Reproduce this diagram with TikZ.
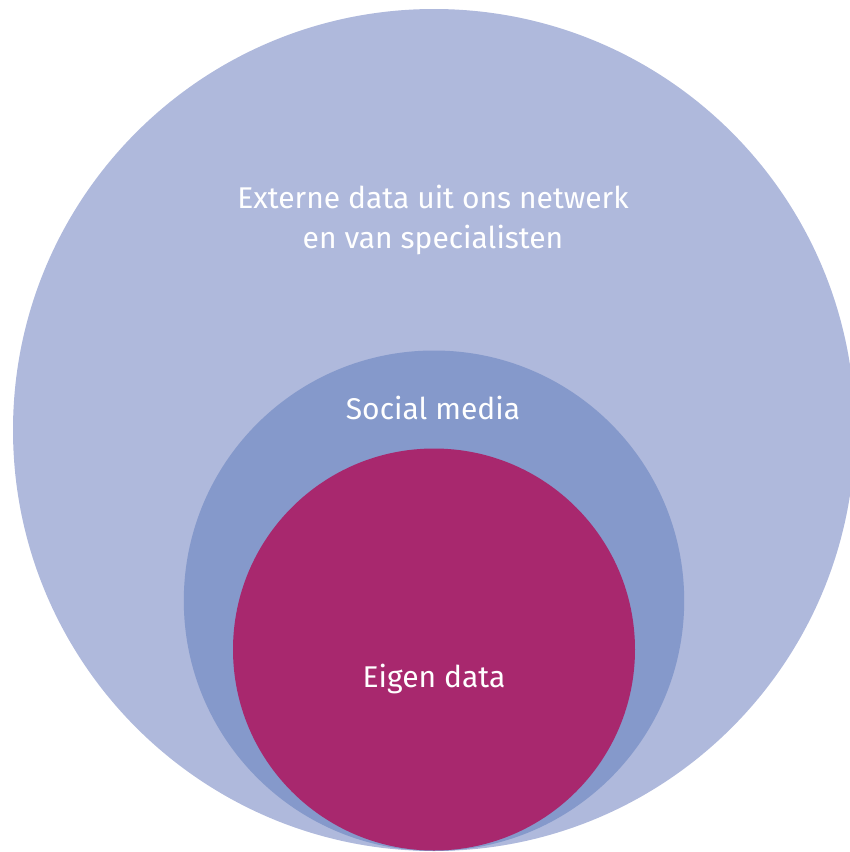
\documentclass[tikz,border=0pt]{standalone}
\usepackage{fontspec}
\setmainfont{Fira Sans}
\definecolor{outerc}{HTML}{AFB9DC}
\definecolor{midc}{HTML}{8599CB}
\definecolor{innerc}{HTML}{A8286E}
\begin{document}
\begin{tikzpicture}[x=1pt,y=-1pt,
  lbl/.style={text=white,font=\fontsize{30}{40}\selectfont,align=center,inner sep=0pt}]
\useasboundingbox (0,0) rectangle (850,852);
\clip (0,0) rectangle (850,852);
\fill[outerc] (434,430) circle[radius=421];
\fill[midc] (434,600.7) circle[radius=250.2];
\fill[innerc] (434,649.5) circle[radius=201];
\node[lbl,anchor=base] (ext) at (433,248) {Externe data uit ons netwerk\\en van specialisten};
\node[lbl,anchor=base] (soc) at (433,419) {Social media};
\node[lbl,anchor=base] (own) at (434,687) {Eigen data};
\end{tikzpicture}
\end{document}
